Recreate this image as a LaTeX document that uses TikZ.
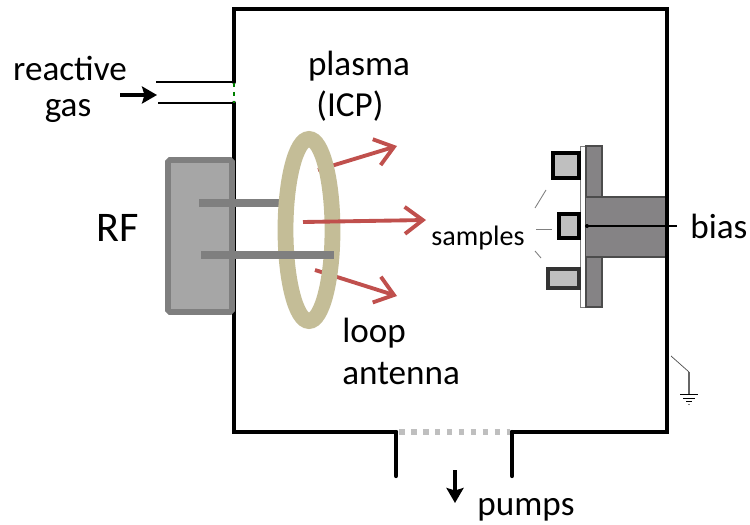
\documentclass[tikz,border=0pt]{standalone}
\usepackage{xcolor}
\usepackage{fontspec}
\setmainfont{Carlito}
\usetikzlibrary{arrows.meta,positioning}
\definecolor{ringtan}{HTML}{C4BD97}
\definecolor{plumered}{HTML}{C0504D}
\definecolor{boxgray}{HTML}{A6A6A6}
\definecolor{bargray}{HTML}{7F7F7F}
\definecolor{stagegray}{HTML}{858385}
\definecolor{samplegray}{HTML}{BFBFBF}
\tikzset{
    wall/.style={line width=2.4pt, line cap=round},
    label/.style={inner sep=0pt, font=\fontsize{20}{24}\selectfont},
    plume/.style={plumered, line width=2.2pt, -{Straight Barb[length=3.6mm,width=5.4mm,line width=2.2pt]}},
    flow/.style={line width=1.8pt, -{Stealth[length=3mm,width=3.4mm,inset=0.5mm]}},
    bar/.style={bargray, line width=4.5pt},
    samplebox/.style={draw=black, line width=1.9pt, fill=samplegray},
    leader/.style={gray, line width=0.5pt}
}
\begin{document}
\begin{tikzpicture}[x=0.02cm, y=-0.02cm]
    \useasboundingbox (0,0) rectangle (750,524);

    % Chamber walls
    \draw[wall] (234,82) -- (234,9) -- (667,9) -- (667,432) -- (512,432);
    \draw[wall] (396,432) -- (234,432) -- (234,103);
    \draw[wall] (396,432) -- (396,476);
    \draw[wall] (512,432) -- (512,476);
    \draw[line width=3pt, samplegray, dash pattern=on 3.2pt off 3.6pt] (399,432) -- (510,432);

    % Gas inlet
    \draw[line width=1.1pt] (156,82) -- (234,82);
    \draw[line width=1.1pt] (158,103) -- (234,103);
    \draw[green!50!black, line width=1pt, dash pattern=on 2.5pt off 2.5pt] (234,83) -- (234,103);
    \draw[flow] (120,95) -- (157,95);
    \node[label] (reactive) at (70,68) {reactive};
    \node[label] (gas) at (68,111) {gas};

    % RF box
    \draw[bargray, fill=boxgray, line width=3.2pt, rounded corners=1pt] (168,160) rectangle (232,312);
    \node[label, font=\fontsize{24}{28}\selectfont] (rf) at (118,228) {RF};

    % Plasma arrows behind the ring
    \draw[plume] (318,170) -- (397,146);
    \draw[plume] (315,270) -- (397,296);

    % Loop antenna
    \draw[bar] (199,203) -- (285,203);
    \draw[ringtan, line width=9pt] (309,230) ellipse (23.5 and 91);
    \draw[plume] (303,222) -- (426,220);
    \draw[bar] (201,255) -- (334,255);
    \node[label, anchor=west] (loop) at (342,333) {loop};
    \node[label, anchor=west] (antenna) at (342,374) {antenna};

    % Plasma
    \node[label] (plasma) at (359,66) {plasma};
    \node[label] (icp) at (350,106) {(ICP)};

    % Sample stage
    \draw[gray, fill=white, line width=0.5pt] (580,146) rectangle (586,307);
    \draw[black!70, fill=stagegray, line width=1pt] (586,146) rectangle (602,307);
    \fill[stagegray] (586,197) rectangle (665,257);
    \draw[black!70, line width=1pt] (586,197) -- (665,197);
    \draw[black!70, line width=1pt] (586,257) -- (665,257);

    % Samples
    \draw[samplebox] (553,153) rectangle (579,178);
    \draw[samplebox] (559,214) rectangle (579,238);
    \draw[samplebox, draw=black!80] (548,269) rectangle (579,288);
    \node[label, font=\fontsize{16}{19}\selectfont] (samples) at (478,238) {samples};
    \draw[leader] (535,208) -- (546,190);
    \draw[leader] (536,229) -- (552,229);
    \draw[leader] (535,251) -- (541,258);

    % Bias line
    \node[label, anchor=west] (bias) at (690,226) {bias};
    \coordinate (bias pin) at (587,226);
    \fill (bias pin) circle (2);
    \draw[line width=1.1pt] (bias pin) -- (677,226);

    % Ground
    \draw[black!70, line width=0.4pt] (671,356) -- (689,372);
    \draw[black!60, line width=0.6pt] (689,372) -- (689,394);
    \draw[line width=0.5pt] (680,394) -- (698,394);
    \draw[line width=0.5pt] (683,398) -- (695,398);
    \draw[line width=0.4pt] (686,401) -- (692,401);
    \draw[gray, line width=0.4pt] (688,404) -- (690,404);

    % Pumps
    \draw[flow] (455,470) -- (455,503);
    \node[label] (pumps) at (526,510) {pumps};
\end{tikzpicture}
\end{document}
